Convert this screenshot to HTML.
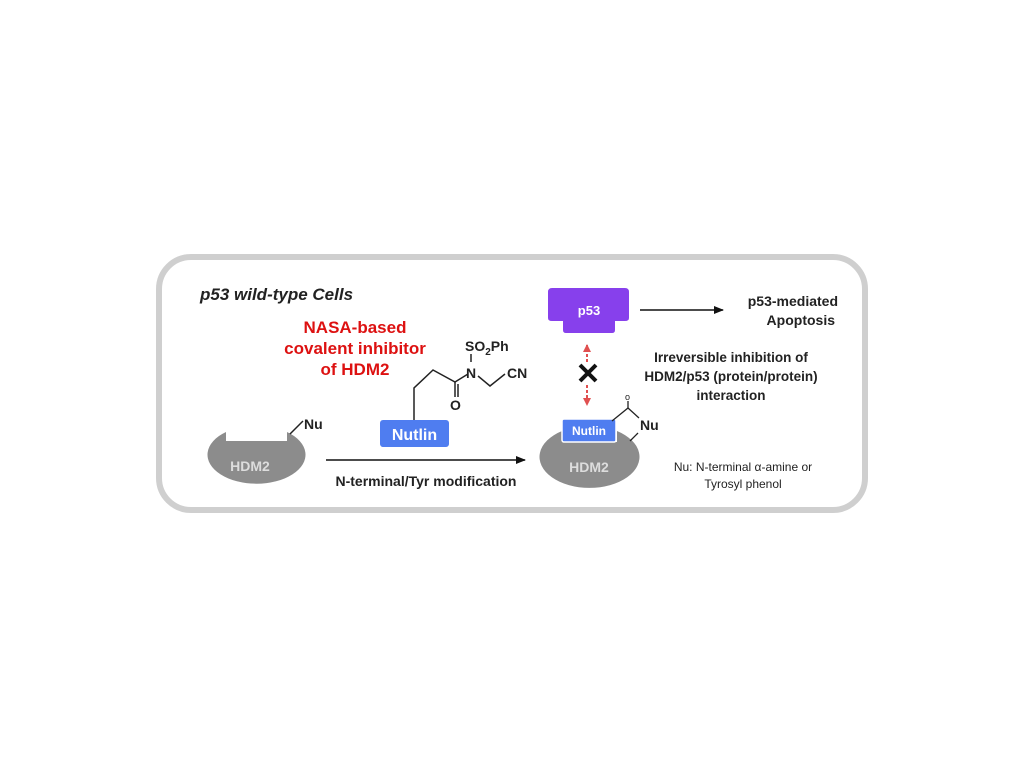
<!DOCTYPE html>
<html><head><meta charset="utf-8"><style>
body{margin:0;background:#fff;}
svg text{font-family:"Liberation Sans",Arial,sans-serif;}
</style></head><body>
<svg width="1024" height="768" viewBox="0 0 1024 768" xmlns="http://www.w3.org/2000/svg">
<defs>
<marker id="ah" markerWidth="10" markerHeight="8" refX="9" refY="4" orient="auto" markerUnits="userSpaceOnUse"><path d="M0,0 L10,4 L0,8 z" fill="#111"/></marker>
<marker id="rh" markerWidth="8" markerHeight="8" refX="7" refY="4" orient="auto" markerUnits="userSpaceOnUse"><path d="M0,0 L8,4 L0,8 z" fill="#e05050"/></marker>
</defs>
<rect x="159" y="257" width="706" height="253" rx="32" fill="#fff" stroke="#cfcfcf" stroke-width="6"/>
<text x="200" y="300" font-size="17" font-weight="bold" font-style="italic" fill="#222">p53 wild-type Cells</text>
<g font-size="17" font-weight="bold" fill="#dd1111" text-anchor="middle">
<text x="355" y="333">NASA-based</text>
<text x="355" y="354">covalent inhibitor</text>
<text x="355" y="375">of HDM2</text>
</g>
<!-- left HDM2 -->
<path d="M226,432 L226,441 L287,441 L287,432 A49,29 0 1 1 226,432 Z" fill="#8c8c8c"/>
<text x="250" y="471" font-size="14" font-weight="bold" fill="#ddd" text-anchor="middle">HDM2</text>
<line x1="290" y1="434" x2="303" y2="421" stroke="#222" stroke-width="1.5"/>
<text x="304" y="429" font-size="14" font-weight="bold" fill="#222">Nu</text>
<!-- Nutlin chain -->
<polyline points="414,420 414,388 433,370 455,382 468,374" fill="none" stroke="#222" stroke-width="1.5"/>
<line x1="455" y1="382" x2="455" y2="397" stroke="#222" stroke-width="1.5"/>
<line x1="458" y1="384" x2="458" y2="397" stroke="#222" stroke-width="1.5"/>
<text x="450" y="410" font-size="14" font-weight="bold" fill="#222">O</text>
<text x="466" y="378" font-size="14" font-weight="bold" fill="#222">N</text>
<line x1="471" y1="362" x2="471" y2="354" stroke="#222" stroke-width="1.5"/>
<text x="465" y="351" font-size="14" font-weight="bold" fill="#222">SO<tspan font-size="10" dy="4">2</tspan><tspan dy="-4">Ph</tspan></text>
<polyline points="478,376 490,386 505,374" fill="none" stroke="#222" stroke-width="1.5"/>
<text x="507" y="378" font-size="14" font-weight="bold" fill="#222">CN</text>
<rect x="380" y="420" width="69" height="27" rx="3" fill="#4f7df0"/>
<text x="414.5" y="440" font-size="16" font-weight="bold" fill="#fff" text-anchor="middle">Nutlin</text>
<line x1="326" y1="460" x2="525" y2="460" stroke="#111" stroke-width="1.5" marker-end="url(#ah)"/>
<text x="426" y="486" font-size="14" font-weight="bold" fill="#222" text-anchor="middle">N-terminal/Tyr modification</text>
<!-- p53 -->
<path d="M552,288 H625 Q629,288 629,292 V318 Q629,321 625,321 H615 V330 Q615,333 612,333 H566 Q563,333 563,330 V321 H552 Q548,321 548,318 V292 Q548,288 552,288 Z" fill="#8740ec"/>
<text x="589" y="315" font-size="13" font-weight="bold" fill="#fff" text-anchor="middle">p53</text>
<line x1="640" y1="310" x2="723" y2="310" stroke="#111" stroke-width="1.5" marker-end="url(#ah)"/>
<g font-size="14" font-weight="bold" fill="#222" text-anchor="end">
<text x="838" y="306">p53-mediated</text>
<text x="835" y="325">Apoptosis</text>
</g>
<line x1="587" y1="362" x2="587" y2="345" stroke="#e05050" stroke-width="2" stroke-dasharray="3,2" marker-end="url(#rh)"/>
<line x1="587" y1="385" x2="587" y2="405" stroke="#e05050" stroke-width="2" stroke-dasharray="3,2" marker-end="url(#rh)"/>
<path d="M580,365 L596,381 M596,365 L580,381" stroke="#111" stroke-width="4"/>
<g font-size="13.5" font-weight="bold" fill="#222" text-anchor="middle">
<text x="731" y="362">Irreversible inhibition of</text>
<text x="731" y="381">HDM2/p53 (protein/protein)</text>
<text x="731" y="400">interaction</text>
</g>
<!-- right HDM2 -->
<path d="M562,431 L562,442 L617,442 L617,431 A50,31 0 1 1 562,431 Z" fill="#8c8c8c"/>
<rect x="562" y="419" width="54" height="23" rx="2" fill="#4f7df0" stroke="#fff" stroke-width="1.5"/>
<text x="589" y="435" font-size="12" font-weight="bold" fill="#fff" text-anchor="middle">Nutlin</text>
<text x="589" y="472" font-size="14" font-weight="bold" fill="#ddd" text-anchor="middle">HDM2</text>
<polyline points="612,421 628,408 639,418" fill="none" stroke="#222" stroke-width="1.3"/>
<line x1="628" y1="408" x2="628" y2="401" stroke="#222" stroke-width="1.3"/>
<text x="625" y="400" font-size="9" fill="#222">o</text>
<text x="640" y="430" font-size="14" font-weight="bold" fill="#222">Nu</text>
<line x1="638" y1="433" x2="630" y2="441" stroke="#222" stroke-width="1.3"/>
<g font-size="12" fill="#222" text-anchor="middle">
<text x="743" y="471">Nu: N-terminal α-amine or</text>
<text x="743" y="488">Tyrosyl phenol</text>
</g>
</svg>
</body></html>
